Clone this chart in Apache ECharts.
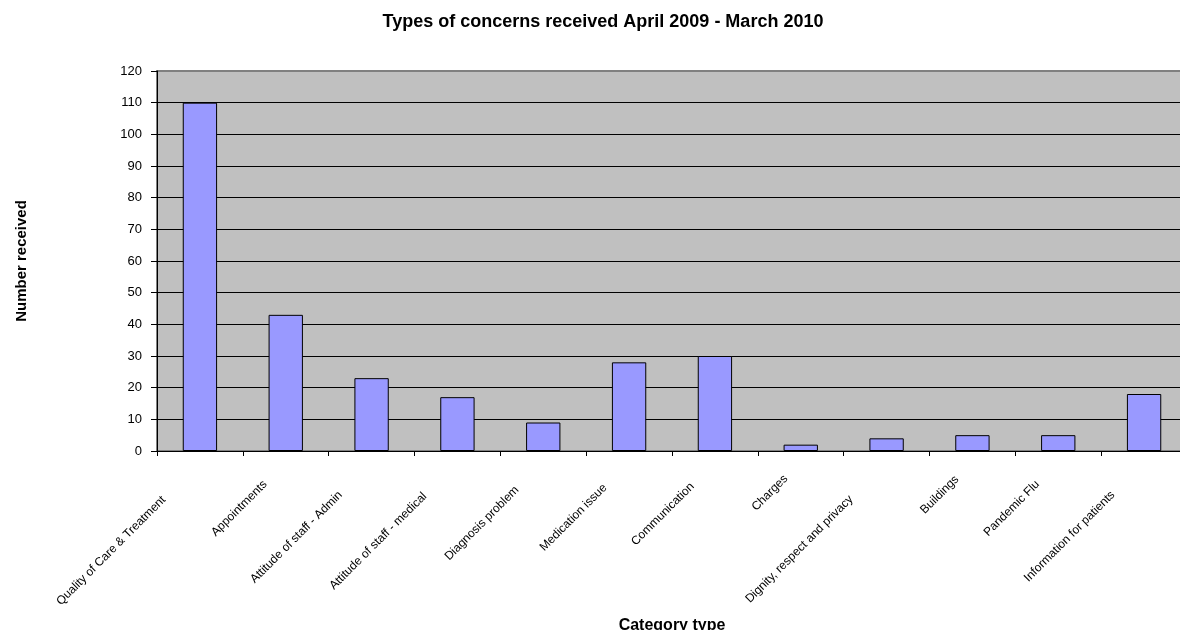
<!DOCTYPE html>
<html>
<head>
<meta charset="utf-8">
<script src="https://cdn.jsdelivr.net/npm/echarts@6/dist/echarts.min.js"></script>
<style>
  html, body { margin: 0; padding: 0; background: #ffffff; }
  #chart { width: 1180px; height: 630px; }
</style>
</head>
<body>
<div id="chart"></div>
<script>
// Concern categories and the number received for each, April 2009 - March 2010
const categories = [
  'Quality of Care & Treatment',
  'Appointments',
  'Attitude of staff - Admin',
  'Attitude of staff - medical',
  'Diagnosis problem',
  'Medication issue',
  'Communication',
  'Charges',
  'Dignity, respect and privacy',
  'Buildings',
  'Pandemic Flu',
  'Information for patients'
];
const received = [110, 43, 23, 17, 9, 28, 30, 2, 4, 5, 5, 18];
const yTicks = { min: 0, max: 120, step: 10 };

const FONT = 'Arial, "Liberation Sans", sans-serif';
const LABEL_SIZE = 12;

// Slanted labels sit further back from the axis the longer they are
const measureCtx = document.createElement('canvas').getContext('2d');
measureCtx.font = LABEL_SIZE + 'px ' + FONT;
const categoryItems = categories.map(function (name) {
  const w = measureCtx.measureText(name).width;
  return {
    value: name,
    textStyle: { padding: [0, Math.round(8 + 0.29 * w), 0, 0] }
  };
});

// Gridlines are black; the top one (at max) is grey like the frame
const gridLineCount = (yTicks.max - yTicks.min) / yTicks.step + 1;
const splitColors = [];
for (let i = 0; i < gridLineCount; i++) {
  splitColors.push(i === gridLineCount - 1 ? '#808080' : '#000000');
}

const chart = echarts.init(document.getElementById('chart'), null, { renderer: 'canvas' });
chart.setOption({
  animation: false,
  backgroundColor: '#ffffff',
  title: {
    text: 'Types of concerns received April 2009 - March 2010',
    left: 598,
    textAlign: 'center',
    top: 8,
    textStyle: { fontFamily: FONT, fontSize: 18, fontWeight: 'bold', color: '#000000' }
  },
  grid: {
    left: 157,
    top: 71,
    width: 1030,
    height: 380,
    show: true,
    backgroundColor: '#C0C0C0',
    borderColor: '#808080',
    borderWidth: 2,
    outerBoundsMode: 'none',
    containLabel: false
  },
  xAxis: {
    type: 'category',
    data: categoryItems,
    name: 'Category type',
    nameLocation: 'middle',
    nameGap: 167,
    nameTextStyle: { fontFamily: FONT, fontSize: 16, fontWeight: 'bold', color: '#000000', verticalAlign: 'top' },
    axisLine: { show: true, lineStyle: { color: '#000000', width: 1 } },
    axisTick: { show: true, alignWithLabel: false, length: 5, lineStyle: { color: '#000000' } },
    axisLabel: {
      interval: 0,
      rotate: 45,
      margin: 11,
      fontFamily: FONT,
      fontSize: LABEL_SIZE,
      color: '#000000',
      hideOverlap: false
    },
    splitLine: { show: false }
  },
  yAxis: {
    type: 'value',
    min: yTicks.min,
    max: yTicks.max,
    interval: yTicks.step,
    name: 'Number received',
    nameLocation: 'middle',
    nameGap: 128,
    nameTextStyle: { fontFamily: FONT, fontSize: 15, fontWeight: 'bold', color: '#000000' },
    axisLine: { show: true, lineStyle: { color: '#000000', width: 1 } },
    axisTick: { show: true, length: 6, lineStyle: { color: '#000000' } },
    axisLabel: { margin: 15, fontFamily: FONT, fontSize: 13, color: '#000000' },
    splitLine: { show: true, lineStyle: { color: splitColors, width: 1 } }
  },
  series: [{
    type: 'bar',
    data: received,
    barWidth: '40%',
    itemStyle: { color: '#9999FF', borderColor: '#000000', borderWidth: 1 }
  }]
});
</script>
</body>
</html>
